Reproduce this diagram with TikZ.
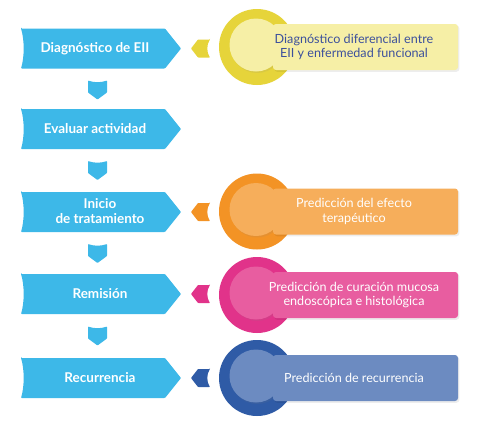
\documentclass[tikz,border=0pt]{standalone}
\usepackage{fontspec}
\setmainfont{Lato}
\usetikzlibrary{shadows}
\definecolor{stepblue}{HTML}{3DB8E8}
\definecolor{yelO}{HTML}{E6D43A}
\definecolor{yelI}{HTML}{F6EFA6}
\definecolor{yelT}{HTML}{3C509C}
\definecolor{oraO}{HTML}{F39325}
\definecolor{oraI}{HTML}{F6AE5B}
\definecolor{pinO}{HTML}{E1338A}
\definecolor{pinI}{HTML}{E85DA0}
\definecolor{navO}{HTML}{2F5BA6}
\definecolor{navI}{HTML}{6C8BC1}
\tikzset{
  steptext/.style={font=\bfseries\fontsize{13.5}{15}\selectfont, text=white, align=center},
  infotext/.style={font=\fontsize{12.6}{14.5}\selectfont, text=white, align=center},
  softshadow/.style={drop shadow={opacity=0.12, shadow xshift=1.2pt, shadow yshift=-1.5pt}},
}
\newcommand{\stepbox}[1]{%
  \fill[stepblue, rounded corners=0.8pt] (21,#1-20) -- (165,#1-20) -- (181,#1) -- (165,#1+20) -- (21,#1+20)
    .. controls (24.5,#1+8) and (24.5,#1-8) .. (21,#1-20) -- cycle;}
\newcommand{\downarrowshape}[1]{%
  \fill[stepblue, rounded corners=0.6pt] (88,#1) .. controls (94,#1+2.2) and (101,#1+2.2) .. (107,#1)
    -- (107,#1+12) -- (97.5,#1+19) -- (88,#1+12) -- cycle;}
\newcommand{\pointer}[2]{%
  \fill[#1, rounded corners=0.6pt] (210,#2-9) -- (198,#2-9) -- (191,#2) -- (198,#2+9) -- (210,#2+9)
    .. controls (206.5,#2+4) and (206.5,#2-4) .. (210,#2-9) -- cycle;}
\newcommand{\infoblock}[3]{%
  \fill[#1] (257,#3) circle (38);
  \fill[black, opacity=0.07, rounded corners=3pt] (274.2,#3-21.5) rectangle (459.4,#3+24.8);
  \fill[#2, softshadow] (256,#3-2) circle (26.5);
  \fill[#2, rounded corners=3pt] (273,#3-23) rectangle (458,#3+23);}
\begin{document}
\begin{tikzpicture}[x=1pt,y=-1pt]
\fill[white] (0,0) rectangle (480,429);
\useasboundingbox (0,0) rectangle (480,429);
% left column
\stepbox{48.5}
\stepbox{129}
\stepbox{212}
\stepbox{294}
\stepbox{378}
\node[steptext] (s1) at (95,48.5) {Diagnóstico de EII};
\node[steptext] (s2) at (95,129) {Evaluar actividad};
\node[steptext] (s3) at (100,211) {Inicio\\de tratamiento};
\node[steptext] (s4) at (100,294) {Remisión};
\node[steptext] (s5) at (100,378) {Recurrencia};
\downarrowshape{80.5}
\downarrowshape{161}
\downarrowshape{244}
\downarrowshape{326.5}
% right column
\infoblock{yelO}{yelI}{47}
\infoblock{oraO}{oraI}{211.5}
\infoblock{pinO}{pinI}{295}
\infoblock{navO}{navI}{378}
\pointer{yelO}{48.5}
\pointer{oraO}{212}
\pointer{pinO}{294}
\pointer{navO}{378}
\node[infotext, text=yelT] (i1) at (354,47) {Diagnóstico diferencial entre\\EII y enfermedad funcional};
\node[infotext] (i2) at (354,211.5) {Predicción del efecto\\terapéutico};
\node[infotext] (i3) at (354,295) {Predicción de curación mucosa\\endoscópica e histológica};
\node[infotext] (i4) at (354,378) {Predicción de recurrencia};
\end{tikzpicture}
\end{document}
